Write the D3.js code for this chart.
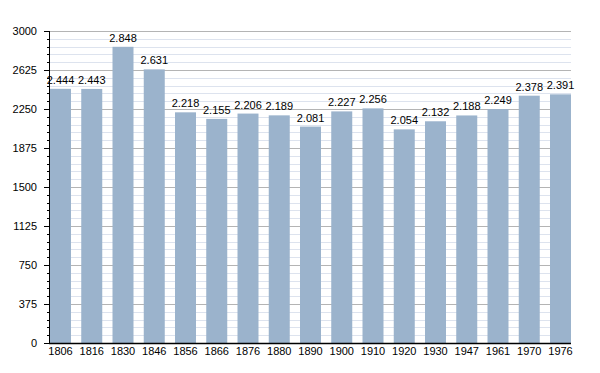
<!DOCTYPE html>
<html><head><meta charset="utf-8">
<script src="https://cdn.jsdelivr.net/npm/d3@7"></script>
<style>body{margin:0;background:#fff}svg{display:block}text{font-family:"Liberation Sans",Arial,sans-serif}</style>
</head><body>
<svg id="c" width="600" height="373"></svg>
<script>
const years = ["1806","1816","1830","1846","1856","1866","1876","1880","1890","1900","1910","1920","1930","1947","1961","1970","1976"];
const population = [2444,2443,2848,2631,2218,2155,2206,2189,2081,2227,2256,2054,2132,2188,2249,2378,2391];
const yTicks = [0,375,750,1125,1500,1875,2250,2625,3000];

const svg = d3.select("#c");
const L = 50, R = 571, T = 31, B = 343;
const x = d3.scaleBand().domain(years).range([L, R]).paddingInner(0.328).paddingOuter(0);
const y = d3.scaleLinear().domain([0, 3000]).range([B, T]);

const minor = d3.range(0, 3001, 75).filter(v => v % 375 !== 0);
svg.append("g").selectAll("line").data(minor).join("line")
  .attr("x1", L).attr("x2", R).attr("y1", d => Math.round(y(d)) + 0.5).attr("y2", d => Math.round(y(d)) + 0.5)
  .attr("stroke", "#dde3ee").attr("stroke-width", 1);
svg.append("g").selectAll("line").data(yTicks.filter(v => v > 0)).join("line")
  .attr("x1", L).attr("x2", R).attr("y1", d => Math.round(y(d)) + 0.5).attr("y2", d => Math.round(y(d)) + 0.5)
  .attr("stroke", "#b4b4b4").attr("stroke-width", 1);

svg.append("g").selectAll("rect").data(population).join("rect")
  .attr("x", (d, i) => x(years[i])).attr("width", x.bandwidth())
  .attr("y", d => y(d)).attr("height", d => B - y(d))
  .attr("fill", "#9bb3cc");

svg.append("g").selectAll("text").data(population).join("text")
  .attr("x", (d, i) => x(years[i]) + x.bandwidth() / 2).attr("y", d => y(d) - 5)
  .attr("text-anchor", "middle").attr("font-size", 11).attr("fill", "#000")
  .text(d => d3.format(",")(d).replace(",", "."));

// y axis
const ya = svg.append("g").attr("transform", `translate(${L},0)`)
  .call(d3.axisLeft(y).tickValues(yTicks).tickSize(6).tickPadding(7).tickFormat(d3.format("d")));
ya.select(".domain").remove();
ya.selectAll("text").attr("font-size", 11).attr("font-family", "Liberation Sans, Arial, sans-serif").attr("fill", "#000");
ya.selectAll("line").attr("stroke", "#000");
svg.append("g").selectAll("line").data(minor).join("line")
  .attr("x1", L - 3).attr("x2", L).attr("y1", d => Math.round(y(d)) + 0.5).attr("y2", d => Math.round(y(d)) + 0.5)
  .attr("stroke", "#000");
svg.append("line").attr("x1", L - 0.5).attr("x2", L - 0.5).attr("y1", T).attr("y2", B + 1).attr("stroke", "#000");

// x axis
const xa = svg.append("g").attr("transform", `translate(0,${B})`)
  .call(d3.axisBottom(x).tickSize(0).tickPadding(4));
xa.select(".domain").remove();
xa.selectAll("text").attr("font-size", 11).attr("font-family", "Liberation Sans, Arial, sans-serif").attr("fill", "#000");
svg.append("line").attr("x1", L - 1).attr("x2", R).attr("y1", B + 0.5).attr("y2", B + 0.5).attr("stroke", "#000").attr("stroke-width", 1.5);
</script>
</body></html>
